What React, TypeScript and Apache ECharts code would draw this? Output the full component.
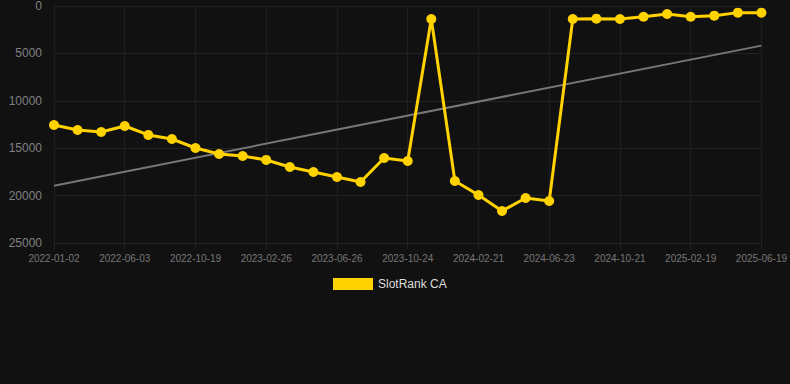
import React, { useEffect, useRef } from "react";
import * as echarts from "echarts";

const dates = [
  "2022-01-02", "2022-02-21", "2022-04-13", "2022-06-03", "2022-07-19", "2022-09-03",
  "2022-10-19", "2022-12-01", "2023-01-13", "2023-02-26", "2023-04-07", "2023-05-17",
  "2023-06-26", "2023-08-05", "2023-09-14", "2023-10-24", "2023-12-03", "2024-01-12",
  "2024-02-21", "2024-04-01", "2024-05-12", "2024-06-23", "2024-08-02", "2024-09-11",
  "2024-10-21", "2024-11-30", "2025-01-10", "2025-02-19", "2025-03-31", "2025-05-10",
  "2025-06-19",
];

const rankValues = [
  12550, 13080, 13290, 12660, 13600, 14030, 14980, 15610, 15820, 16240, 16980, 17510,
  18040, 18570, 16030, 16350, 1370, 18460, 19940, 21620, 20250, 20570, 1370, 1340,
  1370, 1130, 840, 1130, 1020, 700, 700,
];

const trendStart = 18950;
const trendEnd = 4180;
const trendValues = dates.map((_, i) =>
  i === 0 ? trendStart : i === dates.length - 1 ? trendEnd : null
);

const yTicks = [0, 5000, 10000, 15000, 20000, 25000];

export default function App() {
  const ref = useRef<HTMLDivElement>(null);
  useEffect(() => {
    if (!ref.current) return;
    const chart = echarts.init(ref.current, undefined, { renderer: "svg" });
    chart.setOption({
      animation: false,
      backgroundColor: "#111111",
      grid: { left: 54, right: 28, top: 6, bottom: 141 },
      legend: {
        data: ["SlotRank CA"],
        top: 273,
        left: 328,
        itemWidth: 40,
        itemHeight: 12,
        icon: "rect",
        textStyle: { color: "#dddddd", fontSize: 12, fontFamily: "Arial, Liberation Sans, sans-serif" },
      },
      xAxis: {
        type: "category",
        data: dates,
        boundaryGap: false,
        axisLine: { onZero: false, lineStyle: { color: "#262626" } },
        axisTick: { show: true, interval: 2, length: 6, lineStyle: { color: "#222222" } },
        axisLabel: {
          interval: 2,
          color: "#777777",
          fontSize: 10,
          margin: 10,
          fontFamily: "Arial, Liberation Sans, sans-serif",
        },
        splitLine: { show: true, interval: 2, lineStyle: { color: "#1e1e1e" } },
      },
      yAxis: {
        type: "value",
        inverse: true,
        min: yTicks[0],
        max: yTicks[yTicks.length - 1],
        interval: 5000,
        axisLine: { show: false },
        axisTick: { show: false },
        axisLabel: {
          color: "#808080",
          fontSize: 12,
          margin: 12,
          formatter: (v: number) => String(v),
          fontFamily: "Arial, Liberation Sans, sans-serif",
        },
        splitLine: { lineStyle: { color: "#222222" } },
      },
      series: [
        {
          name: "SlotRank CA",
          type: "line",
          data: rankValues,
          symbol: "circle",
          symbolSize: 10,
          lineStyle: { color: "#ffd200", width: 3 },
          itemStyle: { color: "#ffd200" },
          z: 3,
        },
        {
          name: "Trend",
          type: "line",
          data: trendValues,
          connectNulls: true,
          symbol: "none",
          lineStyle: { color: "#777777", width: 2 },
          z: 2,
        },
      ],
    });
    return () => chart.dispose();
  }, []);
  return (
    <div
      ref={ref}
      style={{ position: "fixed", left: 0, top: 0, width: 790, height: 384, background: "#111111" }}
    />
  );
}
